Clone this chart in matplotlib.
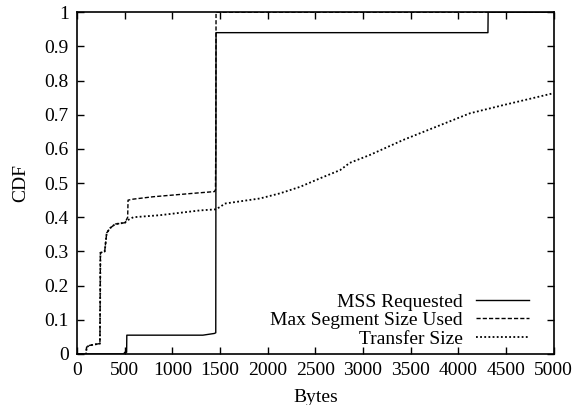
## CDF of MSS / segment size / transfer size
import numpy as np
import matplotlib
matplotlib.use("Agg")
import matplotlib.pyplot as plt

## -----------------------
## Data
mss_x = [0, 490, 500, 520, 522, 1320, 1440, 1455, 1458, 4310, 4312, 5000]
mss_y = [0, 0, 0.005, 0.005, 0.055, 0.055, 0.06, 0.062, 0.94, 0.94, 1.0, 1.0]

seg_x = [0, 95, 100, 130, 230, 240, 245, 290, 311, 346, 400, 503, 531, 535,
         590, 800, 1220, 1440, 1452, 1455, 1458, 5000]
seg_y = [0, 0, 0.02, 0.025, 0.03, 0.03, 0.296, 0.30, 0.354, 0.368, 0.38, 0.384,
         0.40, 0.45, 0.453, 0.46, 0.47, 0.475, 0.48, 0.6, 1.0, 1.0]

xfer_x = [0, 95, 100, 130, 230, 240, 245, 290, 311, 346, 400, 503, 520, 590,
          870, 1290, 1450, 1500, 1550, 1920, 2130, 2340, 2550, 2760, 2860,
          3070, 3420, 3770, 4120, 4470, 5000]
xfer_y = [0, 0, 0.02, 0.025, 0.03, 0.03, 0.296, 0.30, 0.354, 0.368, 0.38, 0.384,
          0.39, 0.40, 0.406, 0.42, 0.423, 0.43, 0.44, 0.455, 0.47, 0.489, 0.514,
          0.538, 0.559, 0.582, 0.626, 0.665, 0.704, 0.728, 0.763]

labels = ["MSS Requested", "Max Segment Size Used", "Transfer Size"]

## -----------------------
## Plot
plt.rcParams['font.family'] = ['Liberation Serif', 'DejaVu Serif']
plt.rcParams['font.size'] = 14

fig = plt.figure(figsize=(5.75, 4.05), dpi=100)
ax = fig.add_axes([0.134, 0.126, 0.829, 0.844])

ax.plot(mss_x, mss_y, color='black', lw=1.0, label=labels[0])
ax.plot(seg_x, seg_y, color='black', lw=1.0, linestyle=(0, (3, 1.5)), label=labels[1])
ax.plot(xfer_x, xfer_y, color='black', lw=1.3, linestyle=(0, (1, 1.3)), label=labels[2])

ax.set_xlim(0, 5000)
ax.set_ylim(0, 1)
ax.set_xticks(np.arange(0, 5001, 500))
ax.set_yticks(np.arange(0, 1.01, 0.1))
ax.set_yticklabels(["0", "0.1", "0.2", "0.3", "0.4", "0.5", "0.6", "0.7", "0.8", "0.9", "1"])
ax.tick_params(direction='in', top=True, right=True, length=5, width=1, pad=6)
for sp in ax.spines.values():
    sp.set_linewidth(1.2)

ax.set_xlabel("Bytes", labelpad=7)
ax.set_ylabel("CDF", labelpad=11)

ax.legend(loc='lower right', markerfirst=False, frameon=False, handlelength=2.7,
          handletextpad=0.7, labelspacing=0.05, borderaxespad=0, borderpad=0,
          bbox_to_anchor=(0.948, 0.018))

fig.savefig("out.png", dpi=100)
